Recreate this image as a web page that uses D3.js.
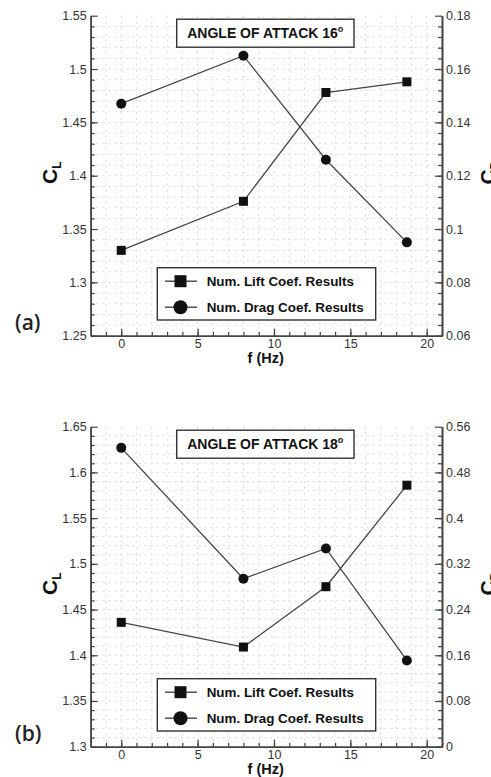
<!DOCTYPE html>
<html>
<head>
<meta charset="utf-8">
<script src="https://cdn.jsdelivr.net/npm/d3@7"></script>
<style>
  body { margin: 0; background: #fff; }
  svg { display: block; font-family: "Liberation Sans", Arial, sans-serif; }
</style>
</head>
<body>
<svg id="chart" width="491" height="777"></svg>
<script>
// frequency (Hz) of each case
const freq = [0, 8, 13.4, 18.7];

// (a) angle of attack 16 deg
const liftA = [1.330, 1.376, 1.478, 1.488];
const dragA = [0.147, 0.165, 0.126, 0.095];

// (b) angle of attack 18 deg
const liftB = [1.436, 1.409, 1.475, 1.586];
const dragB = [0.523, 0.294, 0.347, 0.151];

// tick labels
const xTicks = [0, 5, 10, 15, 20];
const clTicksA = ["1.25", "1.3", "1.35", "1.4", "1.45", "1.5", "1.55"];
const cdTicksA = ["0.06", "0.08", "0.1", "0.12", "0.14", "0.16", "0.18"];
const clTicksB = ["1.3", "1.35", "1.4", "1.45", "1.5", "1.55", "1.6", "1.65"];
const cdTicksB = ["0", "0.08", "0.16", "0.24", "0.32", "0.4", "0.48", "0.56"];

const titles = ["ANGLE OF ATTACK 16", "ANGLE OF ATTACK 18"];
const panelTags = ["(a)", "(b)"];
const legendLabels = ["Num. Lift Coef. Results", "Num. Drag Coef. Results"];

const left = 90.7, right = 442, ph = 320;
const svg = d3.select("#chart");
const lineCol = "#444", inkCol = "#111";

function drawPanel(top, lift, drag, clTicks, cdTicks, minorStepL, title, tag) {
  const bottom = top + ph;
  const clVals = clTicks.map(Number), cdVals = cdTicks.map(Number);
  const x = d3.scaleLinear().domain([-2, 21]).range([left, right]);
  const yL = d3.scaleLinear().domain([clVals[0], clVals[clVals.length - 1]]).range([bottom, top]);
  const yR = d3.scaleLinear().domain([cdVals[0], cdVals[cdVals.length - 1]]).range([bottom, top]);

  const g = svg.append("g");

  // dashed grid on minor positions
  const xMinor = d3.range(-1, 22, 1);
  const nMinor = Math.round((yL.domain()[1] - yL.domain()[0]) / minorStepL);
  const yMinor = d3.range(1, nMinor).map(i => yL.domain()[0] + i * minorStepL);
  g.append("g").selectAll("line").data(xMinor).join("line")
    .attr("x1", d => x(d)).attr("x2", d => x(d)).attr("y1", top).attr("y2", bottom)
    .attr("stroke", "#cfcfcf").attr("stroke-width", 0.8).attr("stroke-dasharray", "2,4");
  g.append("g").selectAll("line").data(yMinor).join("line")
    .attr("x1", left).attr("x2", right).attr("y1", d => yL(d)).attr("y2", d => yL(d))
    .attr("stroke", "#cfcfcf").attr("stroke-width", 0.8).attr("stroke-dasharray", "2,4");

  // minor ticks
  g.append("g").attr("transform", `translate(0,${bottom})`)
    .call(d3.axisBottom(x).tickValues(xMinor).tickSize(-4).tickSizeOuter(0).tickFormat(""));
  g.append("g").attr("transform", `translate(${left},0)`)
    .call(d3.axisLeft(yL).tickValues(yMinor).tickSize(-4).tickSizeOuter(0).tickFormat(""));
  g.append("g").attr("transform", `translate(${right},0)`)
    .call(d3.axisRight(yL).tickValues(yMinor).tickSize(-4).tickSizeOuter(0).tickFormat(""));

  // major axes
  const xa = g.append("g").attr("transform", `translate(0,${bottom})`)
    .call(d3.axisBottom(x).tickValues(xTicks).tickSize(-7).tickSizeOuter(0).tickPadding(3));
  const la = g.append("g").attr("transform", `translate(${left},0)`)
    .call(d3.axisLeft(yL).tickValues(clVals).tickSize(-7).tickSizeOuter(0).tickPadding(4)
      .tickFormat((d, i) => clTicks[i]));
  const ra = g.append("g").attr("transform", `translate(${right},0)`)
    .call(d3.axisRight(yR).tickValues(cdVals).tickSize(-7).tickSizeOuter(0).tickPadding(4)
      .tickFormat((d, i) => cdTicks[i]));

  g.selectAll(".domain").attr("stroke", lineCol).attr("stroke-width", 1.6);
  g.selectAll(".tick line").attr("stroke", lineCol).attr("stroke-width", 1.2);
  [xa, la, ra].forEach(a => a.selectAll("text")
    .attr("font-size", 12.5).attr("fill", "#333").attr("font-family", "Liberation Sans, Arial, sans-serif"));

  // series lines
  const lineL = d3.line().x((d, i) => x(freq[i])).y(d => yL(d));
  const lineR = d3.line().x((d, i) => x(freq[i])).y(d => yR(d));
  g.append("path").datum(lift).attr("d", lineL).attr("fill", "none")
    .attr("stroke", lineCol).attr("stroke-width", 1.3);
  g.append("path").datum(drag).attr("d", lineR).attr("fill", "none")
    .attr("stroke", lineCol).attr("stroke-width", 1.3);

  g.append("g").selectAll("rect").data(lift).join("rect")
    .attr("x", (d, i) => x(freq[i]) - 4.5).attr("y", d => yL(d) - 4.5)
    .attr("width", 9).attr("height", 9).attr("fill", inkCol);
  g.append("g").selectAll("circle").data(drag).join("circle")
    .attr("cx", (d, i) => x(freq[i])).attr("cy", d => yR(d)).attr("r", 5)
    .attr("fill", inkCol);

  // title box
  const tb = g.append("g");
  tb.append("rect").attr("x", 176.7).attr("y", top + 3.5).attr("width", 177.3).attr("height", 28)
    .attr("fill", "#fff").attr("stroke", "#333").attr("stroke-width", 1.4);
  const tt = tb.append("text").attr("x", 265.3).attr("y", top + 22.5).attr("text-anchor", "middle")
    .attr("font-size", 14).attr("font-weight", "bold").attr("fill", "#111");
  tt.append("tspan").text(title);
  tt.append("tspan").attr("font-size", 9).attr("dy", -6).text("o");

  // legend
  const ly = bottom - 68;
  const lg = g.append("g");
  lg.append("rect").attr("x", 157.3).attr("y", ly).attr("width", 218.4).attr("height", 52.3)
    .attr("fill", "#fff").attr("stroke", "#333").attr("stroke-width", 1.4);
  legendLabels.forEach((lab, i) => {
    const cy = ly + 13.5 + i * 26;
    lg.append("line").attr("x1", 165).attr("x2", 197).attr("y1", cy).attr("y2", cy)
      .attr("stroke", lineCol).attr("stroke-width", 1.4);
    if (i === 0) {
      lg.append("rect").attr("x", 174.5).attr("y", cy - 6).attr("width", 12).attr("height", 12).attr("fill", inkCol);
    } else {
      lg.append("circle").attr("cx", 180.5).attr("cy", cy).attr("r", 7).attr("fill", inkCol);
    }
    lg.append("text").attr("x", 206.7).attr("y", cy + 5).attr("font-size", 13.4)
      .attr("font-weight", "bold").attr("fill", "#111").text(lab);
  });

  // axis titles
  g.append("text").attr("x", 265.7).attr("y", bottom + 27).attr("text-anchor", "middle")
    .attr("font-size", 14.5).attr("font-weight", "bold").attr("fill", "#111").text("f (Hz)");

  const cl = g.append("text").attr("transform", `translate(57,${top + 157}) rotate(-90)`)
    .attr("text-anchor", "middle").attr("font-size", 21).attr("font-weight", "bold").attr("fill", "#111");
  cl.append("tspan").text("C");
  cl.append("tspan").attr("font-size", 12).attr("dy", 4).text("L");

  const cd = g.append("text").attr("transform", `translate(495,${top + 157}) rotate(-90)`)
    .attr("text-anchor", "middle").attr("font-size", 21).attr("font-weight", "bold").attr("fill", "#111");
  cd.append("tspan").text("C");
  cd.append("tspan").attr("font-size", 12).attr("dy", 4).text("D");

  g.append("text").attr("x", 15).attr("y", bottom - 6).attr("font-size", 21).attr("font-weight", 600)
    .attr("font-family", "'Open Sans', sans-serif").attr("fill", "#222").text(tag);
}

drawPanel(15.7, liftA, dragA, clTicksA, cdTicksA, 0.01, titles[0], panelTags[0]);
drawPanel(426.7, liftB, dragB, clTicksB, cdTicksB, 0.01, titles[1], panelTags[1]);
</script>
</body>
</html>
